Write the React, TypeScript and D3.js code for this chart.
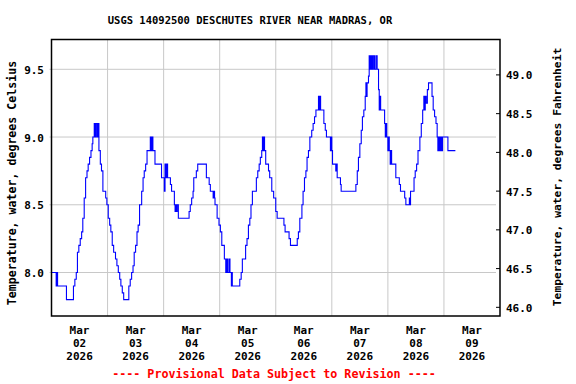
import React from "react";
import * as d3 from "d3";

// USGS 14092500 water temperature, hours since Mar 02 2026 00:00 and reading in deg C
const hours = [
  0, 2.0, 2.3, 2.6, 6.4, 9.4, 10.0, 10.6, 11.1, 11.7, 12.3, 12.9, 13.4, 14.0, 14.6, 15.2, 15.7, 16.3, 16.9, 17.4,
  17.7, 18.3, 18.7, 19.1, 19.6, 20.0, 20.3, 20.9, 21.4, 22.0, 23.2, 23.7, 24.3, 24.9, 25.4, 26.0, 26.6, 27.4, 28.0, 28.6,
  29.2, 29.7, 30.3, 30.9, 33.1, 33.7, 34.3, 34.9, 35.4, 36.0, 36.6, 37.1, 37.7, 38.6, 39.2, 39.7, 40.3, 40.9, 42.3, 42.7,
  43.0, 43.4, 44.3, 47.1, 48.3, 48.6, 49.0, 49.3, 49.7, 50.9, 51.4, 52.6, 52.9, 53.2, 53.5, 53.8, 54.3, 58.9, 59.4, 60.0,
  60.6, 60.9, 62.0, 62.6, 66.3, 67.5, 68.0, 69.2, 69.5, 69.8, 70.0, 70.9, 71.7, 72.3, 72.9, 74.0, 74.6, 75.0, 75.4, 76.0,
  76.4, 77.0, 77.2, 77.4, 80.6, 81.2, 81.7, 83.1, 83.7, 84.3, 84.9, 85.4, 86.0, 87.7, 88.3, 88.9, 89.4, 90.0, 90.3, 90.7,
  90.9, 91.2, 91.7, 92.9, 93.4, 94.3, 95.1, 96.0, 96.6, 99.5, 100.0, 101.7, 102.3, 105.2, 105.7, 106.3, 107.2, 107.7, 108.3, 108.9,
  109.4, 110.0, 110.6, 111.4, 112.0, 112.6, 113.2, 114.3, 114.6, 114.9, 115.2, 116.6, 117.2, 117.7, 119.4, 119.7, 120.0, 120.3, 121.7, 122.0,
  122.3, 123.7, 124.0, 130.3, 130.9, 131.4, 132.0, 132.6, 133.1, 133.7, 134.3, 134.6, 134.8, 135.1, 135.7, 136.0, 136.3, 136.6, 136.9, 137.2,
  137.5, 137.8, 138.3, 138.9, 139.4, 140.0, 140.3, 140.6, 140.9, 142.6, 142.9, 143.2, 143.5, 144.0, 144.3, 144.6, 145.0, 145.3, 145.6, 147.4,
  148.9, 149.4, 151.2, 151.7, 153.2, 153.5, 153.7, 155.2, 155.7, 156.3, 156.9, 157.7, 158.3, 158.9, 159.4, 159.7, 160.0, 160.4, 160.9, 161.4,
  162.9, 163.4, 164.0, 164.6, 165.1, 165.4, 165.8, 166.2, 166.6, 167.0, 167.4, 169.7, 172.9,
];
const tempC = [
  8.0, 7.9, 8.0, 7.9, 7.8, 7.9, 7.95, 8.0, 8.15, 8.2, 8.25, 8.3, 8.4, 8.55, 8.7, 8.75, 8.8, 8.85, 8.9, 8.95,
  9.0, 9.1, 9.0, 9.1, 9.0, 9.1, 8.9, 8.8, 8.75, 8.6, 8.55, 8.5, 8.4, 8.35, 8.3, 8.2, 8.15, 8.1, 8.05, 8.0,
  7.95, 7.9, 7.85, 7.8, 7.9, 7.95, 8.0, 8.05, 8.15, 8.2, 8.3, 8.35, 8.5, 8.6, 8.7, 8.75, 8.8, 8.9, 9.0, 8.9,
  9.0, 8.9, 8.8, 8.7, 8.6, 8.8, 8.7, 8.8, 8.7, 8.65, 8.6, 8.5, 8.45, 8.5, 8.45, 8.5, 8.4, 8.45, 8.5, 8.55,
  8.6, 8.7, 8.75, 8.8, 8.7, 8.65, 8.6, 8.55, 8.6, 8.55, 8.5, 8.4, 8.35, 8.3, 8.2, 8.1, 8.0, 8.1, 8.0, 8.1,
  8.0, 7.9, 8.0, 7.9, 7.95, 8.0, 8.1, 8.2, 8.25, 8.35, 8.4, 8.5, 8.6, 8.7, 8.75, 8.8, 8.85, 8.9, 9.0, 8.9,
  9.0, 8.9, 8.8, 8.75, 8.7, 8.6, 8.55, 8.45, 8.4, 8.35, 8.3, 8.25, 8.2, 8.25, 8.3, 8.4, 8.5, 8.6, 8.7, 8.75,
  8.85, 8.9, 9.0, 9.05, 9.1, 9.15, 9.2, 9.3, 9.2, 9.3, 9.2, 9.1, 9.05, 9.0, 8.9, 9.0, 8.9, 8.8, 8.75, 8.8,
  8.7, 8.65, 8.6, 8.65, 8.75, 8.85, 8.95, 9.05, 9.15, 9.2, 9.3, 9.4, 9.3, 9.4, 9.45, 9.6, 9.5, 9.6, 9.5, 9.6,
  9.5, 9.6, 9.5, 9.6, 9.5, 9.35, 9.2, 9.3, 9.2, 9.1, 9.0, 9.1, 9.0, 8.9, 9.0, 8.9, 8.8, 8.9, 8.8, 8.7,
  8.65, 8.6, 8.55, 8.5, 8.55, 8.5, 8.6, 8.7, 8.75, 8.8, 8.9, 9.0, 9.1, 9.2, 9.3, 9.2, 9.3, 9.25, 9.35, 9.4,
  9.3, 9.2, 9.15, 9.1, 9.0, 8.9, 9.0, 8.9, 9.0, 8.9, 9.0, 8.9, 8.9,
];

const dayLabels = ["02", "03", "04", "05", "06", "07", "08", "09"];
const celsiusTicks = [8.0, 8.5, 9.0, 9.5];
const fahrenheitTicks = [46.0, 46.5, 47.0, 47.5, 48.0, 48.5, 49.0];

const title = "USGS 14092500 DESCHUTES RIVER NEAR MADRAS, OR";
const leftTitle = "Temperature, water, degrees Celsius";
const rightTitle = "Temperature, water, degrees Fahrenheit";
const footer = "---- Provisional Data Subject to Revision ----";

const width = 576;
const height = 384;
const margin = { left: 51.5, right: 76, top: 39.5, bottom: 68 };
const font = "'DejaVu Sans Mono', monospace";

export default function App() {
  const start = new Date(2026, 2, 2);
  const end = new Date(2026, 2, 10);
  const x = d3.scaleTime().domain([start, end]).range([margin.left, width - margin.right]);
  const y = d3.scaleLinear().domain([7.679, 9.72]).range([height - margin.bottom, margin.top]);
  // right axis is drawn with its own scale, as in the source
  const yF = d3.scaleLinear().domain([45.888, 49.457]).range([height - margin.bottom, margin.top]);

  const data = hours.map((h, i) => ({ t: d3.timeMinute.offset(start, Math.round(h * 60)), v: tempC[i] }));
  const line = d3.line<{ t: Date; v: number }>()
    .x((d) => x(d.t))
    .y((d) => y(d.v))
    .curve(d3.curveStepAfter);

  const days = d3.timeDay.range(start, end);
  const left = margin.left;
  const right = width - margin.right;
  const top = margin.top;
  const bottom = height - margin.bottom;

  return (
    <svg width={width} height={height} style={{ position: "absolute", left: 0, top: 0, background: "#fff" }}
      fontFamily={font} fontWeight="bold">
      <text x={250} y={24} fontSize={10.5} textAnchor="middle">{title}</text>

      {/* grid */}
      {days.slice(1).map((d, i) => (
        <line key={"vx" + i} x1={x(d)} x2={x(d)} y1={top} y2={bottom} stroke="#c8c8c8" strokeWidth={1} />
      ))}
      {celsiusTicks.map((c) => (
        <line key={"hy" + c} x1={left - 2} x2={right - 4} y1={y(c)} y2={y(c)} stroke="#c8c8c8" strokeWidth={1} />
      ))}

      <path d={line(data) ?? ""} fill="none" stroke="#0000ff" strokeWidth={1.1} />

      <rect x={left} y={top} width={right - left} height={bottom - top} fill="none" stroke="#000" strokeWidth={1.5} />

      {/* left axis labels */}
      {celsiusTicks.map((c) => (
        <text key={"ly" + c} x={44} y={y(c) + 4.5} fontSize={11} textAnchor="end">{c.toFixed(1)}</text>
      ))}
      {/* right axis */}
      {fahrenheitTicks.map((f) => (
        <g key={"ry" + f}>
          <line x1={right - 4} x2={right} y1={yF(f)} y2={yF(f)} stroke="#000" strokeWidth={1} />
          <text x={506} y={yF(f) + 4.5} fontSize={11}>{f.toFixed(1)}</text>
        </g>
      ))}

      {/* x labels at noon */}
      {days.map((d, i) => {
        const cx = x(d3.timeHour.offset(d, 12));
        return (
          <text key={"xl" + i} x={cx} fontSize={11} textAnchor="middle">
            <tspan x={cx} y={334}>Mar</tspan>
            <tspan x={cx} y={347}>{dayLabels[i]}</tspan>
            <tspan x={cx} y={360}>2026</tspan>
          </text>
        );
      })}

      <text transform="translate(16,183) rotate(-90)" fontSize={11.6} textAnchor="middle">{leftTitle}</text>
      <text transform="translate(561,177) rotate(-90)" fontSize={11.3} textAnchor="middle">{rightTitle}</text>

      <text x={274} y={378} fontSize={11.7} textAnchor="middle" fill="#ff0000">{footer}</text>
    </svg>
  );
}
